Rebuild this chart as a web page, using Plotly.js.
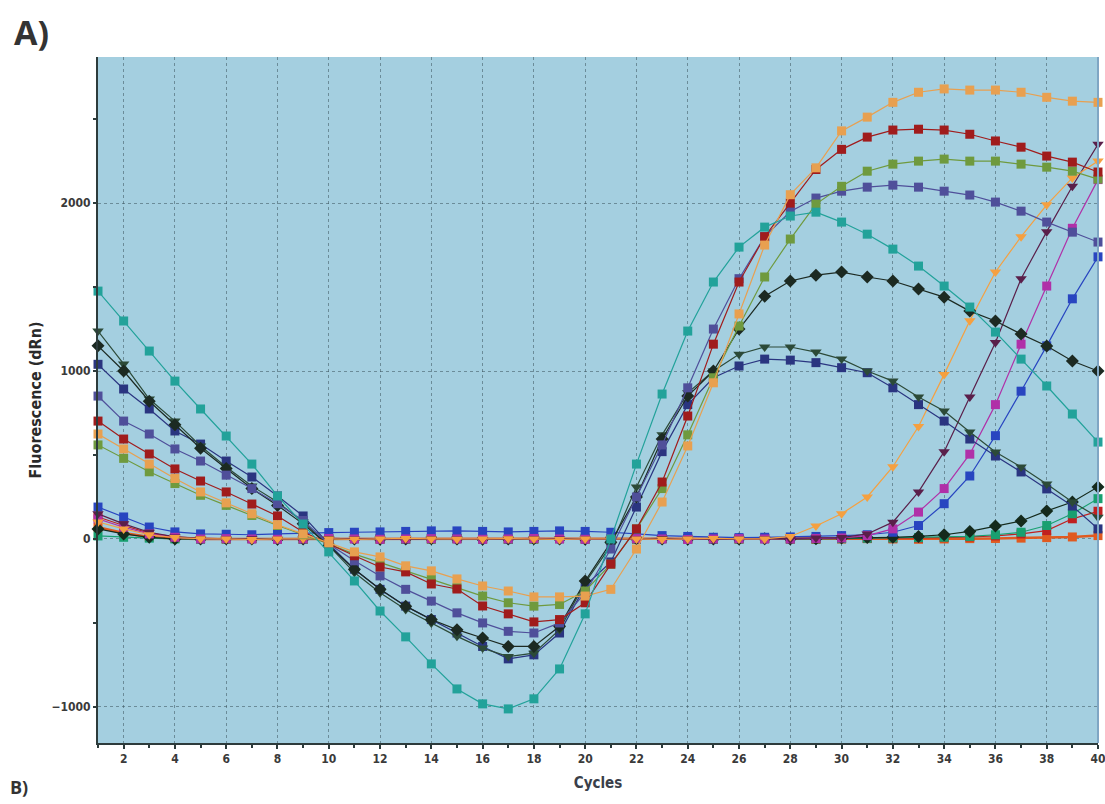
<!DOCTYPE html>
<html>
<head>
<meta charset="utf-8">
<script src="https://cdn.plot.ly/plotly-3.0.1.min.js"></script>
<style>html,body{margin:0;padding:0;background:#fff;}#chart{width:1105px;height:804px;}</style>
</head>
<body>
<div id="chart"></div>
<script>
// ---- data ----
const cycles = [1,2,3,4,5,6,7,8,9,10,11,12,13,14,15,16,17,18,19,20,21,22,23,24,25,26,27,28,29,30,31,32,33,34,35,36,37,38,39,40];

const baselineFlat = [70,35,12,3,0,0,2,0,-2,0,2,0,-2,0,2,0,-2,0,2,0,-2,0,2,0,-2,0,2,0,-2,0,2,0,-2,0,2,3,5,8,12,20];
const redLow       = [131,80,35,12,5,0,2,0,-2,0,2,0,-2,0,2,0,-2,0,2,0,-2,0,2,0,-2,0,2,0,0,2,3,5,6,8,12,18,30,50,120,165];
const tealLow      = [18,10,5,0,-2,0,2,0,-2,0,2,0,-2,0,2,0,-2,0,2,0,-2,0,2,0,-2,0,2,0,0,2,4,6,8,10,15,25,40,80,150,240];
const darkLow      = [60,30,10,0,0,2,0,-2,0,2,0,-2,0,2,0,-2,0,2,0,-2,0,2,0,-2,0,0,2,0,2,5,8,10,15,25,45,77,107,167,220,310];
const blueLate     = [190,131,71,42,30,28,25,30,35,38,40,42,45,48,48,45,42,45,48,45,40,30,20,15,10,8,10,12,15,20,25,40,80,210,375,615,880,1150,1430,1680];
const magentaLate  = [120,70,30,10,0,2,0,-2,0,3,0,-2,0,2,0,-2,0,3,0,-2,0,2,0,-3,0,2,0,0,3,6,20,60,160,300,505,800,1160,1506,1850,2140];
const purpleTriLate= [150,90,40,12,3,0,2,-2,0,3,0,-2,0,2,0,-3,0,2,0,0,-2,0,3,0,-2,0,2,0,5,8,30,100,280,520,845,1170,1550,1830,2100,2350];
const orangeTriLate= [101,60,25,8,2,0,-3,0,2,0,-2,0,3,0,-2,0,2,0,-3,0,2,0,-2,0,3,0,0,15,77,150,250,430,670,980,1300,1590,1800,1990,2150,2250];

const navySq   = [1040,893,774,643,565,464,369,256,137,-30,-180,-300,-400,-480,-560,-640,-714,-690,-560,-280,-137,190,520,800,960,1030,1071,1065,1050,1020,990,900,800,702,595,494,399,298,196,60];
const greenTri = [1238,1042,833,702,554,429,315,220,101,-40,-200,-320,-420,-500,-580,-650,-700,-680,-540,-260,-40,310,620,870,1000,1100,1143,1143,1113,1071,1000,940,845,762,637,518,429,327,220,130];
const blackDia = [1150,1000,820,680,540,420,300,200,90,-40,-180,-300,-400,-480,-540,-590,-640,-640,-520,-250,-20,250,595,851,1000,1250,1446,1536,1571,1589,1560,1536,1488,1440,1357,1298,1220,1149,1060,1000];
const purpleSq = [851,702,625,536,464,380,300,210,110,-30,-130,-220,-300,-370,-440,-500,-550,-560,-500,-320,-60,250,560,900,1250,1550,1800,1950,2030,2071,2095,2107,2095,2071,2048,2006,1952,1887,1827,1768];
const oliveSq  = [560,480,400,330,260,200,140,80,25,-30,-90,-140,-190,-240,-290,-340,-380,-400,-390,-310,-150,60,300,620,960,1268,1560,1786,1994,2100,2190,2232,2250,2262,2250,2250,2232,2214,2190,2143];
const redSq    = [702,595,506,417,345,280,208,137,42,-30,-100,-167,-196,-268,-298,-399,-446,-494,-480,-380,-150,60,339,732,1160,1530,1800,2000,2200,2320,2393,2435,2440,2435,2410,2370,2333,2280,2244,2185];
const orangeSq = [625,536,446,360,280,215,150,85,30,-25,-77,-107,-160,-190,-238,-280,-310,-345,-345,-340,-300,-60,220,554,930,1340,1750,2050,2210,2430,2512,2600,2660,2680,2673,2673,2660,2630,2607,2600];
const tealSq   = [1476,1298,1119,940,774,613,446,256,89,-77,-250,-429,-583,-744,-893,-982,-1012,-952,-774,-446,0,446,863,1238,1530,1738,1857,1923,1946,1887,1815,1726,1625,1506,1381,1232,1071,911,744,577];

const xTickVals = [2,4,6,8,10,12,14,16,18,20,22,24,26,28,30,32,34,36,38,40];
const yTickVals = [-1000,0,1000,2000];
const yTickText = ['\u22121000','0','1000','2000'];

// ---- series list (name, values, color, symbol) ----
const series = [
  ['baseline', baselineFlat, '#e05a20', 'square'],
  ['redLow', redLow, '#c02020', 'square'],
  ['tealLow', tealLow, '#18a070', 'square'],
  ['darkLow', darkLow, '#142a1c', 'diamond'],
  ['blueLate', blueLate, '#2845c0', 'square'],
  ['magentaLate', magentaLate, '#b030a8', 'square'],
  ['purpleTriLate', purpleTriLate, '#5a1f4a', 'triangle-down'],
  ['orangeTriLate', orangeTriLate, '#f5a040', 'triangle-down'],
  ['navySq', navySq, '#2a3580', 'square'],
  ['greenTri', greenTri, '#2c4a38', 'triangle-down'],
  ['blackDia', blackDia, '#1c2a22', 'diamond'],
  ['purpleSq', purpleSq, '#4f4f9a', 'square'],
  ['oliveSq', oliveSq, '#6f9a3e', 'square'],
  ['redSq', redSq, '#a01c1c', 'square'],
  ['orangeSq', orangeSq, '#e8a050', 'square'],
  ['tealSq', tealSq, '#22a29a', 'square']
];

const traces = series.map(s => ({
  type: 'scatter', mode: 'lines+markers', name: s[0],
  x: cycles, y: s[1],
  line: {color: s[2], width: s[0]==='baseline' ? 2.5 : 1.2},
  marker: {color: s[2], symbol: s[3], size: s[3]==='square' ? 9 : 10},
  cliponaxis: false, showlegend: false
}));

const fam = '"DejaVu Sans Condensed", "Liberation Sans Narrow", "Liberation Sans", sans-serif';
const tickFont = {family: fam, size: 12, color: '#3a3a3a', weight: 'bold'};

const layout = {
  width: 1105, height: 804,
  margin: {l: 98, r: 7, t: 57, b: 61},
  paper_bgcolor: '#ffffff',
  plot_bgcolor: '#a4cfe0',
  showlegend: false,
  xaxis: {
    range: [1, 40], tickmode: 'array', tickvals: xTickVals,
    ticklabeloverflow: 'allow',
    ticks: 'outside', ticklen: 4, tickwidth: 2, tickcolor: '#2d3b3b',
    minor: {dtick: 1, tick0: 1, ticks: 'outside', ticklen: 3, tickcolor: '#2d3b3b', showgrid: false},
    showgrid: true, gridcolor: 'rgba(60,85,95,0.55)', griddash: 'dot', gridwidth: 1,
    zeroline: false, showline: true, linecolor: '#2d3b3b', linewidth: 2,
    tickfont: tickFont,
    title: {text: 'Cycles', font: {family: fam, size: 15, color: '#3a3f4a', weight: 'bold'}, standoff: 12}
  },
  yaxis: {
    range: [-1215, 2870], tickmode: 'array', tickvals: yTickVals, ticktext: yTickText,
    ticks: 'outside', ticklen: 3, tickwidth: 2, tickcolor: '#2d3b3b',
    minor: {dtick: 500, tick0: 0, ticks: 'outside', ticklen: 3, tickcolor: '#2d3b3b', showgrid: false},
    showgrid: true, gridcolor: 'rgba(60,85,95,0.55)', griddash: 'dot', gridwidth: 1,
    zeroline: false, showline: true, linecolor: '#2d3b3b', linewidth: 2,
    tickfont: tickFont,
    title: {text: 'Fluorescence (dRn)', font: {family: fam, size: 16, color: '#2a2a2a', weight: 'bold'}, standoff: 6}
  },
  shapes: [
    {type: 'line', xref: 'paper', yref: 'paper', x0: 1, x1: 1, y0: 0, y1: 1, line: {color: '#7fa6c4', width: 2}}
  ],
  annotations: [
    {text: 'A)', xref: 'paper', yref: 'paper', x: -0.086, y: 1.0, xanchor: 'left', yanchor: 'bottom',
     showarrow: false, font: {family: 'Open Sans, DejaVu Sans, sans-serif', size: 34, color: '#333333', weight: 'bold'}},
    {text: 'B)', xref: 'paper', yref: 'paper', x: -0.09, y: -0.085, xanchor: 'left', yanchor: 'bottom',
     showarrow: false, font: {family: 'Open Sans, DejaVu Sans, sans-serif', size: 18, color: '#333333', weight: 'bold'}}
  ]
};

Plotly.newPlot('chart', traces, layout, {displayModeBar: false, staticPlot: true});
</script>
</body>
</html>
